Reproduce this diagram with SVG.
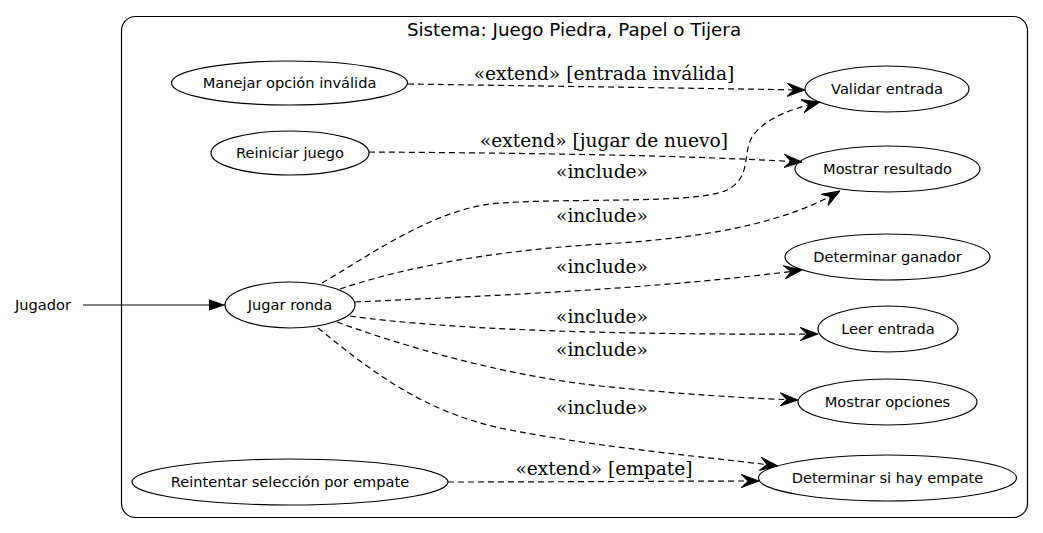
<svg xmlns="http://www.w3.org/2000/svg" width="1043" height="533" viewBox="0 0 1043 533">
<style>
.node ellipse{fill:none;stroke:#000;stroke-width:1.2}
.node text{font-family:"DejaVu Sans",sans-serif;font-size:14.6px;text-anchor:middle;fill:#000}
.edge{fill:none;stroke:#000;stroke-width:1.2;stroke-dasharray:6,4}
.lbl{font-family:"DejaVu Serif",serif;font-size:18.6px;text-anchor:middle;fill:#000}
.title{font-family:"DejaVu Sans",sans-serif;font-size:18.3px;text-anchor:middle;fill:#000}
</style>
<defs>
<marker id="vee" markerUnits="userSpaceOnUse" markerWidth="18" markerHeight="14" viewBox="0 0 16 12" refX="16" refY="6" orient="auto">
<path d="M0,0 L16,6 L0,12 L6,6 Z" fill="#000" stroke="#000" stroke-width="0.8"/>
</marker>
<marker id="tri" markerUnits="userSpaceOnUse" markerWidth="16" markerHeight="12" viewBox="0 0 14 10" refX="14" refY="5" orient="auto">
<path d="M0,0 L14,5 L0,10 Z" fill="#000"/>
</marker>
</defs>
<rect width="1043" height="533" fill="#fff"/>
<g id="cluster_sistema">
<rect x="121.5" y="16.5" width="906" height="501" rx="14" fill="none" stroke="#000" stroke-width="1.2"/>
<text class="title" x="574" y="36">Sistema: Juego Piedra, Papel o Tijera</text>
</g>
<g id="actor_jugador" class="node">
<text x="43" y="310">Jugador</text>
</g>
<g id="uc_manejar" class="node"><ellipse cx="289.5" cy="83" rx="118" ry="22"/><text x="289.5" y="88">Manejar opción inválida</text></g>
<g id="uc_reiniciar" class="node"><ellipse cx="290" cy="153" rx="79" ry="22"/><text x="290" y="158">Reiniciar juego</text></g>
<g id="uc_jugar" class="node"><ellipse cx="290" cy="305" rx="65" ry="23"/><text x="290" y="310">Jugar ronda</text></g>
<g id="uc_reintentar" class="node"><ellipse cx="290" cy="482" rx="158" ry="23"/><text x="290" y="487">Reintentar selección por empate</text></g>
<g id="uc_validar" class="node"><ellipse cx="887" cy="89" rx="82" ry="23"/><text x="887" y="94">Validar entrada</text></g>
<g id="uc_resultado" class="node"><ellipse cx="887.5" cy="169" rx="92.5" ry="23"/><text x="887.5" y="174">Mostrar resultado</text></g>
<g id="uc_ganador" class="node"><ellipse cx="887.5" cy="257" rx="102.5" ry="23"/><text x="887.5" y="262">Determinar ganador</text></g>
<g id="uc_leer" class="node"><ellipse cx="888" cy="329" rx="70" ry="23"/><text x="888" y="334">Leer entrada</text></g>
<g id="uc_opciones" class="node"><ellipse cx="887.5" cy="402" rx="89.5" ry="23"/><text x="887.5" y="407">Mostrar opciones</text></g>
<g id="uc_empate" class="node"><ellipse cx="887.5" cy="478" rx="129" ry="23"/><text x="887.5" y="483">Determinar si hay empate</text></g>
<g id="connectors">
<path d="M83,305 L225,305" fill="none" stroke="#000" stroke-width="1.2" marker-end="url(#tri)"/>
<path class="edge" d="M408,84 C540,86 680,88 805,90" marker-end="url(#vee)"/>
<text class="lbl" x="604" y="80">«extend» [entrada inválida]</text>
<path class="edge" d="M369,152 C520,153 680,155 802,162" marker-end="url(#vee)"/>
<text class="lbl" x="604" y="147">«extend» [jugar de nuevo]</text>
<path class="edge" d="M322,283 C370,255 430,212 490,204 C560,197 695,205 727,190 C752,177 742,155 752,137 C765,117 795,108 820,102" marker-end="url(#vee)"/>
<text class="lbl" x="602" y="178">«include»</text>
<path class="edge" d="M340,289 C420,262 520,248 620,243 C720,236 790,220 840,191" marker-end="url(#vee)"/>
<text class="lbl" x="602" y="222">«include»</text>
<path class="edge" d="M355,302 C480,296 650,290 802,270" marker-end="url(#vee)"/>
<text class="lbl" x="602" y="273">«include»</text>
<path class="edge" d="M350,316 C450,330 620,335 818,334" marker-end="url(#vee)"/>
<text class="lbl" x="602" y="323">«include»</text>
<path class="edge" d="M337,322 C400,345 500,375 600,386 C680,394 740,398 798,400" marker-end="url(#vee)"/>
<text class="lbl" x="602" y="356">«include»</text>
<path class="edge" d="M318,328 C370,370 420,410 500,428 C600,448 700,456 778,466" marker-end="url(#vee)"/>
<text class="lbl" x="602" y="414">«include»</text>
<path class="edge" d="M448,482 C560,482 680,481 759,481" marker-end="url(#vee)"/>
<text class="lbl" x="604" y="475">«extend» [empate]</text>
</g>
</svg>
